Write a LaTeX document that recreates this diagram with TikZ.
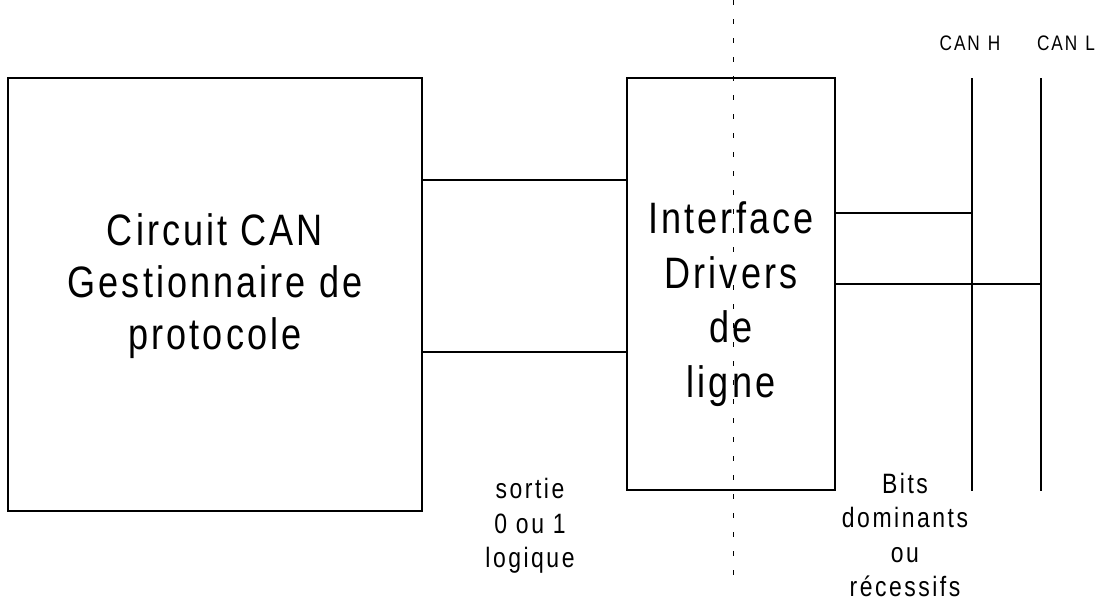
\documentclass[tikz,border=0pt]{standalone}
\usepackage{fontspec}
\setmainfont{Liberation Sans}[FakeStretch=0.82,LetterSpace=7]
\newfontfamily\widefam{Liberation Sans}[FakeStretch=0.82,LetterSpace=9]
\begin{document}
\begin{tikzpicture}[x=1pt,y=-1pt,
  boxst/.style={draw,line width=1.6pt,inner sep=0pt},
  bigtxt/.style={align=center,inner sep=0pt,font=\fontsize{44}{52}\selectfont},
  ifacetxtst/.style={align=center,inner sep=0pt,font=\fontsize{44}{54.5}\selectfont},
  smalltxt/.style={align=center,inner sep=0pt,font=\widefam\fontsize{28}{34.5}\selectfont},
  tinytxt/.style={inner sep=0pt,font=\widefam\fontsize{21}{24}\selectfont},
  wire/.style={line width=1.6pt},
  axis/.style={line width=1pt,dash pattern=on 5pt off 14pt}]
\useasboundingbox (0,0) rectangle (1109,603);
% boxes
\node[boxst,minimum width=414pt,minimum height=433pt] (circ) at (215,294.5) {};
\node[boxst,minimum width=208pt,minimum height=412pt] (iface) at (731,284) {};
% box texts
\node[bigtxt] (circtxt) at (215,286) {Circuit CAN\\Gestionnaire de\\protocole};
\node[ifacetxtst] (ifacetxt) at (731,304) {Interface\\Drivers\\de\\ligne};
% connections between boxes
\draw[wire] (circ.east |- 0,180) -- (iface.west |- 0,180);
\draw[wire] (circ.east |- 0,352) -- (iface.west |- 0,352);
% bus lines
\coordinate (hTop) at (972,78);
\coordinate (hBot) at (972,491);
\coordinate (lTop) at (1041,78);
\coordinate (lBot) at (1041,491);
\draw[wire] (hTop) -- (hBot);
\draw[wire] (lTop) -- (lBot);
\node[tinytxt] (hlbl) at (970,43) {CAN\hspace{8pt}H};
\node[tinytxt] (llbl) at (1066,43) {CAN\hspace{8pt}L};
\draw[wire] (iface.east |- 0,213) -- (hTop |- 0,213);
\draw[wire] (iface.east |- 0,284) -- (lTop |- 0,284);
% dashed separation
\coordinate (dTop) at (733,0);
\coordinate (dBot) at (733,576);
\draw[axis] (dTop) -- (dBot);
% labels
\node[smalltxt] (sortie) at (530,526) {sortie\\0 ou 1\\logique};
\node[smalltxt] (bits) at (905,535) {Bits\\dominants\\ou\\récessifs};
\end{tikzpicture}
\end{document}
